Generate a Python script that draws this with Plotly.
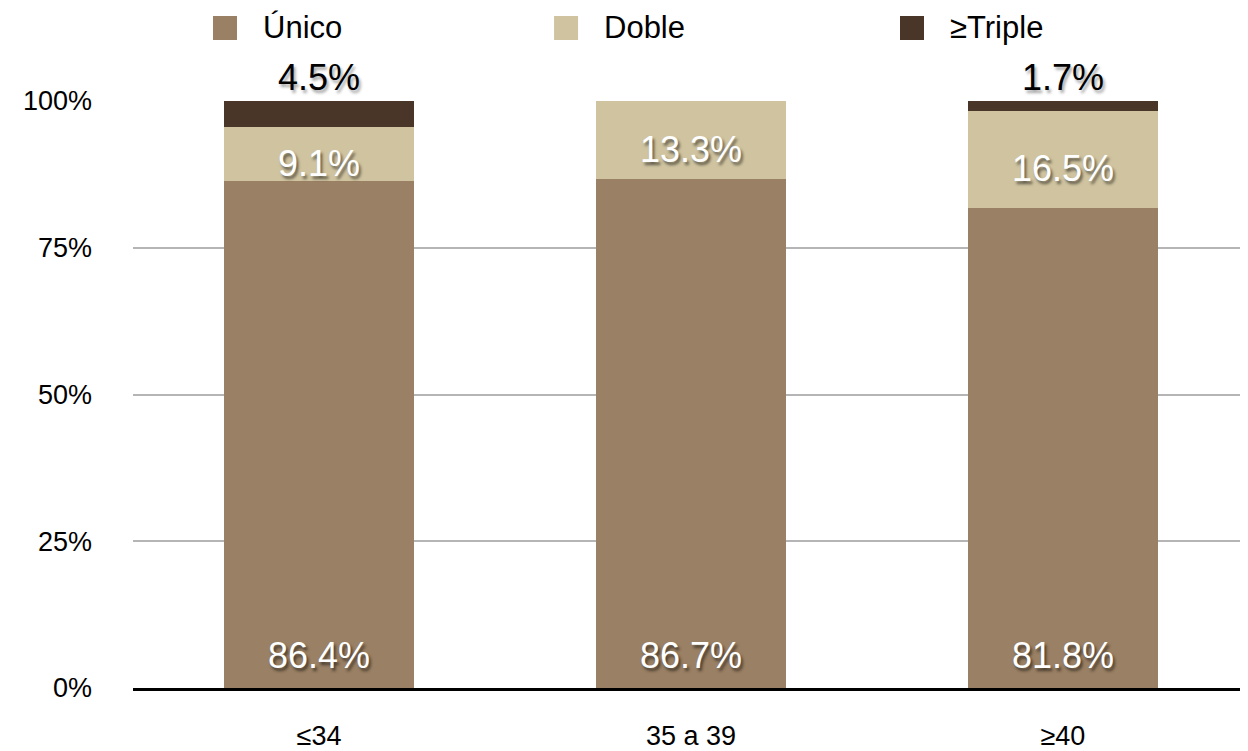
import plotly.graph_objects as go

categories = ["≤34", "35 a 39", "≥40"]
series_names = ["Único", "Doble", "≥Triple"]
unico = [86.4, 86.7, 81.8]
doble = [9.1, 13.3, 16.5]
triple = [4.5, 0.0, 1.7]
y_ticks = [0, 25, 50, 75, 100]
y_tick_labels = ["0%", "25%", "50%", "75%", "100%"]

colors = ["#9a8064", "#d0c4a0", "#4a3628"]
FONT = "Liberation Sans, Arial, Helvetica, sans-serif"
SHADOW_W = "2px 3px 3px rgba(0,0,0,0.55)"
SHADOW_B = "2px 3px 3px rgba(0,0,0,0.35)"


def fmt(vals):
    return [f"{v:.1f}%" if v > 0 else "" for v in vals]


fig = go.Figure()
fig.add_trace(go.Bar(
    x=categories, y=unico, name=series_names[0], marker_color=colors[0],
    marker_line_width=0, hoverinfo="skip", showlegend=False,
))
fig.add_trace(go.Bar(
    x=categories, y=doble, name=series_names[1], marker_color=colors[1],
    marker_line_width=0, hoverinfo="skip", showlegend=False,
))
fig.add_trace(go.Bar(
    x=categories, y=triple, name=series_names[2], marker_color=colors[2],
    marker_line_width=0, text=fmt(triple), textposition="outside",
    textfont=dict(family=FONT, size=36, color="black", shadow=SHADOW_B),
    constraintext="none", cliponaxis=False, hoverinfo="skip", showlegend=False,
))

# value labels inside the bars, positioned with the data scale
label_font = dict(family=FONT, size=36, color="white", shadow=SHADOW_W)
for cat, u, d, tu, td in zip(categories, unico, doble, fmt(unico), fmt(doble)):
    fig.add_annotation(x=cat, y=0, text=tu, showarrow=False,
                       yanchor="middle", yshift=33, font=label_font)
    fig.add_annotation(x=cat, y=u + d / 2, text=td, showarrow=False,
                       yanchor="middle", yshift=-9, font=label_font)

# manual legend (large square swatches)
legend_marker_x = [0.0831, 0.3912, 0.7037]
legend_y = 1.1244
for name, col, mx in zip(series_names, colors, legend_marker_x):
    fig.add_shape(type="rect", xref="paper", yref="paper",
                  xsizemode="pixel", ysizemode="pixel",
                  xanchor=mx, yanchor=legend_y,
                  x0=-12, x1=12, y0=-12, y1=12,
                  fillcolor=col, line_width=0)
    fig.add_annotation(xref="paper", yref="paper", x=mx, y=legend_y,
                       xshift=36, xanchor="left", yanchor="middle",
                       text=name, showarrow=False,
                       font=dict(family=FONT, size=31, color="black"))

# page body has an 8px default margin, so the figure is offset by 8px
fig.update_layout(
    width=1232, height=751,
    margin=dict(l=125, r=0, t=93, b=71),
    paper_bgcolor="white", plot_bgcolor="white",
    barmode="stack", bargap=0.49,
    font=dict(family=FONT, color="black"),
    showlegend=False,
)
fig.update_xaxes(
    range=[-0.5, 2.476], automargin=False,
    showgrid=False, showline=True, linecolor="black", linewidth=2.5,
    ticks="", tickfont=dict(size=27), ticklabelstandoff=22,
    fixedrange=True,
)
fig.update_yaxes(
    range=[0, 100], tickvals=y_ticks, ticktext=y_tick_labels,
    automargin=False,
    showgrid=True, gridcolor="#b5b5b5", gridwidth=2,
    zeroline=False, showline=False, ticks="",
    tickfont=dict(size=27), ticklabelstandoff=40, fixedrange=True,
)

fig.write_html("out.html")
